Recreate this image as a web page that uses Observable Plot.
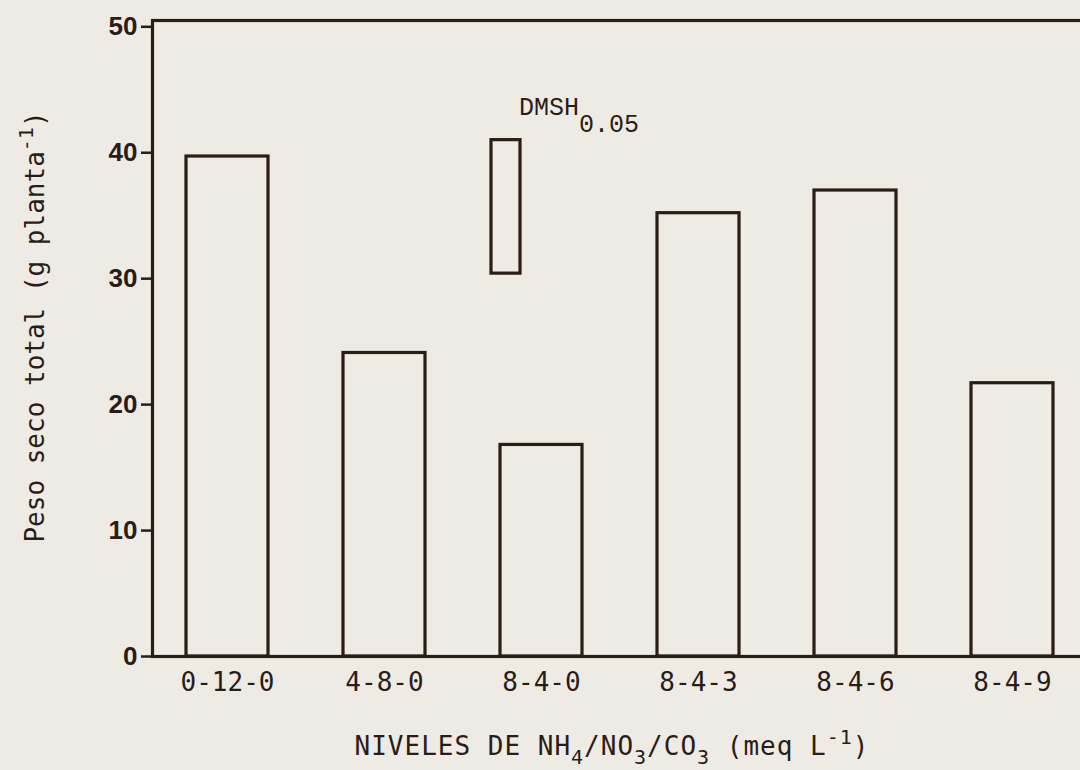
<!DOCTYPE html>
<html>
<head>
<meta charset="utf-8">
<script src="https://cdn.jsdelivr.net/npm/d3@7"></script>
<script src="https://cdn.jsdelivr.net/npm/@observablehq/plot@0.6"></script>
<style>
  html, body { margin: 0; padding: 0; background: #eeebe5; overflow: hidden; }
  #chart svg { display: block; }
</style>
</head>
<body>
<div id="chart"></div>
<script>
// ---- data ----
const niveles = ["0-12-0", "4-8-0", "8-4-0", "8-4-3", "8-4-6", "8-4-9"];
const pesoSeco = [39.7, 24.1, 16.8, 35.2, 37.0, 21.7];
const yTicks = [0, 10, 20, 30, 40, 50];
const dmshNivel = ["8-4-0"];
const dmshLow = [30.4];
const dmshHigh = [41.0];

const ink = "#2a1c17";

const bars = niveles.map((n, i) => ({ nivel: n, peso: pesoSeco[i] }));
const dmsh = dmshNivel.map((n, i) => ({ nivel: n, y1: dmshLow[i], y2: dmshHigh[i] }));

const plot = Plot.plot({
  width: 1080,
  height: 770,
  marginLeft: 152,
  marginRight: -6,
  marginTop: 20,
  marginBottom: 114,
  style: { background: "transparent", color: ink, fontFamily: "DejaVu Sans Mono" },
  x: { domain: niveles, paddingInner: 0.48, paddingOuter: 0.209, label: null },
  y: { domain: [0, 50.5], label: null },
  marks: [
    Plot.barY(bars, { x: "nivel", y: "peso", fill: "none", stroke: ink, strokeWidth: 3.2 }),
    Plot.rectY(dmsh, { x: "nivel", y1: "y1", y2: "y2", fill: "none", stroke: ink, strokeWidth: 3.2,
                       insetLeft: -9, insetRight: 62 }),
    Plot.frame({ stroke: ink, strokeWidth: 3.2 }),
    Plot.axisX({ tickSize: 0, tickPadding: 16, fontSize: 26, fontFamily: "DejaVu Sans Mono", fill: ink, label: null }),
    Plot.axisY({ ticks: yTicks, tickSize: 11, tickPadding: 4, strokeWidth: 2.5, fontSize: 26, fontWeight: "bold",
                 fontFamily: "Liberation Sans", fill: ink, label: null })
  ]
});

document.getElementById("chart").appendChild(plot);

// ---- labels with sub/superscripts ----
const svg = d3.select(plot);
const xs = plot.scale("x");
const ys = plot.scale("y");

// DMSH label next to the box
const bx = xs.apply(dmshNivel[0]);
const dTxt = svg.append("text")
  .attr("x", bx + 19)
  .attr("y", ys.apply(dmshHigh[0]) - 25)
  .attr("text-anchor", "start")
  .attr("fill", ink)
  .attr("font-family", "Liberation Mono")
  .attr("font-size", 25);
dTxt.append("tspan").text("DMSH");
dTxt.append("tspan").attr("dy", 17).text("0.05");

// x axis title
const xt = svg.append("text")
  .attr("x", 612)
  .attr("y", 755)
  .attr("text-anchor", "middle")
  .attr("fill", ink)
  .attr("font-family", "DejaVu Sans Mono")
  .attr("font-size", 26)
  .attr("letter-spacing", 1);
xt.append("tspan").text("NIVELES DE NH");
xt.append("tspan").attr("dy", 9).attr("font-size", 20).text("4");
xt.append("tspan").attr("dy", -9).text("/NO");
xt.append("tspan").attr("dy", 9).attr("font-size", 20).text("3");
xt.append("tspan").attr("dy", -9).text("/CO");
xt.append("tspan").attr("dy", 9).attr("font-size", 20).text("3");
xt.append("tspan").attr("dy", -9).text(" (meq L");
xt.append("tspan").attr("dy", -11).attr("font-size", 20).text("-1");
xt.append("tspan").attr("dy", 11).text(")");

// y axis title
const yt = svg.append("text")
  .attr("transform", "translate(44,327) rotate(-90)")
  .attr("text-anchor", "middle")
  .attr("fill", ink)
  .attr("font-family", "DejaVu Sans Mono")
  .attr("font-size", 26);
yt.append("tspan").text("Peso seco total (g planta");
yt.append("tspan").attr("dy", -11).attr("font-size", 20).text("-1");
yt.append("tspan").attr("dy", 11).text(")");
</script>
</body>
</html>
